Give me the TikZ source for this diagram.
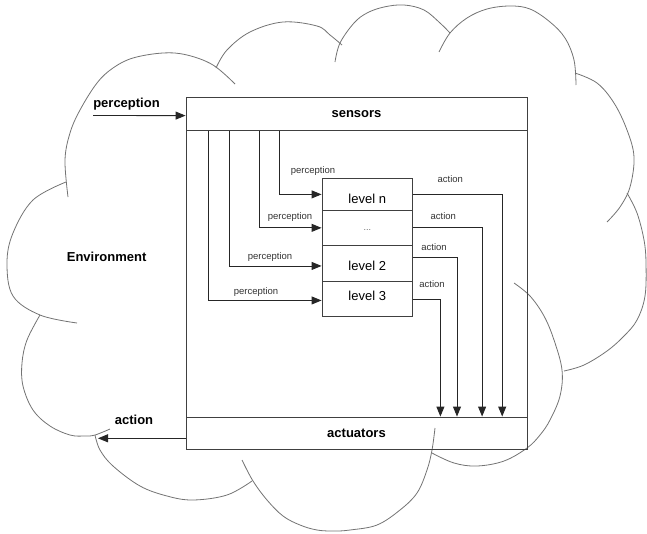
\documentclass[tikz,border=0pt]{standalone}
\usepackage{fontspec}
\setmainfont{Liberation Sans}
\usetikzlibrary{arrows.meta,calc}
\begin{document}
\begin{tikzpicture}[x=1pt,y=-1pt,
  cloudline/.style={draw=black!55, line width=0.8pt},
  boxline/.style={draw=black!75, line width=0.9pt},
  conn/.style={draw=black!85, line width=0.9pt, -{Triangle[length=10pt,width=8pt]}},
  band/.style={boxline, minimum width=341pt, inner sep=0pt, font=\fontsize{13}{15}\selectfont\bfseries},
  levelbox/.style={boxline, minimum width=90.5pt, inner sep=0pt},
  lvltext/.style={font=\fontsize{13}{15}\selectfont, inner sep=0pt},
  dotstext/.style={font=\fontsize{9}{11}\selectfont, text=black!60, inner sep=0pt},
  smalllab/.style={font=\fontsize{9.5}{11}\selectfont, text=black!80, inner sep=0pt},
  biglab/.style={font=\fontsize{13}{15}\selectfont\bfseries, inner sep=0pt}]
\useasboundingbox (0,0) rectangle (647,533);

% cloud
\draw[cloudline] plot[smooth, tension=0.6] coordinates {(68,197) (65,160) (70,133) (80,110) (97,83) (113,68) (133,58) (163,53) (187,55) (213,65) (235,84)};
\draw[cloudline] plot[smooth, tension=0.6] coordinates {(216,68) (227,50) (250,32) (283,22) (317,26) (330,35) (342,45)};
\draw[cloudline] plot[smooth, tension=0.6] coordinates {(335,62) (340,43) (354,23) (367,13) (384,7) (404,5) (424,10) (440,23) (450,33)};
\draw[cloudline] plot[smooth, tension=0.6] coordinates {(439,52) (450,33) (467,18) (487,9) (510,6) (530,9) (550,22) (565,38) (574,60) (576,85)};
\draw[cloudline] plot[smooth, tension=0.6] coordinates {(575,73) (597,83) (614,103) (627,130) (634,157) (630,187) (620,207) (607,222)};
\draw[cloudline] plot[smooth, tension=0.6] coordinates {(627,193) (637,213) (644,240) (646,263) (645,296) (637,320) (624,336) (607,351) (584,365) (564,371)};
\draw[cloudline] plot[smooth, tension=0.6] coordinates {(514,283) (530,296) (544,316) (554,340) (562,370) (560,396) (550,420) (540,435) (527,448) (504,461) (477,466) (454,463) (432,453)};
\draw[cloudline] plot[smooth, tension=0.6] coordinates {(435,428) (432,450) (427,470) (417,493) (400,510) (377,525) (350,530) (334,531) (317,530) (300,525) (283,516) (267,500) (253,481) (242,460)};
\draw[cloudline] plot[smooth, tension=0.6] coordinates {(95,435) (100,450) (113,466) (140,486) (167,496) (193,500) (227,495) (252,481)};
\draw[cloudline] plot[smooth, tension=0.6] coordinates {(40,315) (27,340) (22,363) (23,386) (33,410) (50,426) (70,435) (85,436) (95,435) (110,429)};
\draw[cloudline] plot[smooth, tension=0.6] coordinates {(66,182) (33,200) (13,233) (7,263) (13,296) (40,315) (77,323)};

% agent box
\node[boxline, minimum width=341pt, minimum height=351.7pt, inner sep=0pt] (agent) at (356.5,273.15) {};
\node[band, minimum height=33pt] (sensors) at (356.5,113.8) {sensors};
\node[band, minimum height=32pt] (actuators) at (356.5,433) {actuators};

% levels
\node[levelbox, minimum height=32.2pt, label={[lvltext, yshift=-4.4pt]center:level n}] (levn) at (367.25,194.4) {};
\node[levelbox, minimum height=34.7pt, label={[dotstext, yshift=-2pt]center:...}] (levd) at (367.25,227.85) {};
\node[levelbox, minimum height=36.5pt, label={[lvltext, yshift=-2.2pt]center:level 2}] (lev2) at (367.25,263.45) {};
\node[levelbox, minimum height=34.5pt, label={[lvltext, yshift=3.2pt]center:level 3}] (lev3) at (367.25,298.95) {};

% perception connectors
\draw[conn] (sensors.south -| 279.3,0) |- (levn.west);
\draw[conn] (sensors.south -| 259.1,0) |- (levd.west);
\draw[conn] (sensors.south -| 229.8,0) |- ([yshift=-2.5pt]lev2.west);
\draw[conn] (sensors.south -| 208.6,0) |- ([yshift=-1.5pt]lev3.west);

\node[smalllab] (pn) at (313,170.7) {perception};
\node[smalllab] (pd) at (290,217) {perception};
\node[smalllab] (p2) at (270,256.7) {perception};
\node[smalllab] (p3) at (256,292) {perception};

% action connectors
\draw[conn] (levn.east) -| (actuators.north -| 502.2,0);
\draw[conn] (levd.east) -| (actuators.north -| 482.1,0);
\draw[conn] ([yshift=6pt]lev2.east) -| (actuators.north -| 457,0);
\draw[conn] (lev3.east) -| (actuators.north -| 440.4,0);

\node[smalllab] (an) at (450.3,178.7) {action};
\node[smalllab] (ad) at (443.3,216) {action};
\node[smalllab] (a2) at (434,247) {action};
\node[smalllab] (a3) at (432,284) {action};

% environment side
\node[biglab] (env) at (106.6,257) {Environment};
\node[biglab] (percin) at (126.5,104) {perception};
\coordinate (pstart) at (93,115.5);
\draw[conn] (pstart) -- ([yshift=-1.8pt]sensors.west);
\node[biglab] (actout) at (134,420) {action};
\coordinate (aend) at (98,438.3);
\draw[conn] ([yshift=-5.3pt]actuators.west) -- (aend);
\end{tikzpicture}
\end{document}
